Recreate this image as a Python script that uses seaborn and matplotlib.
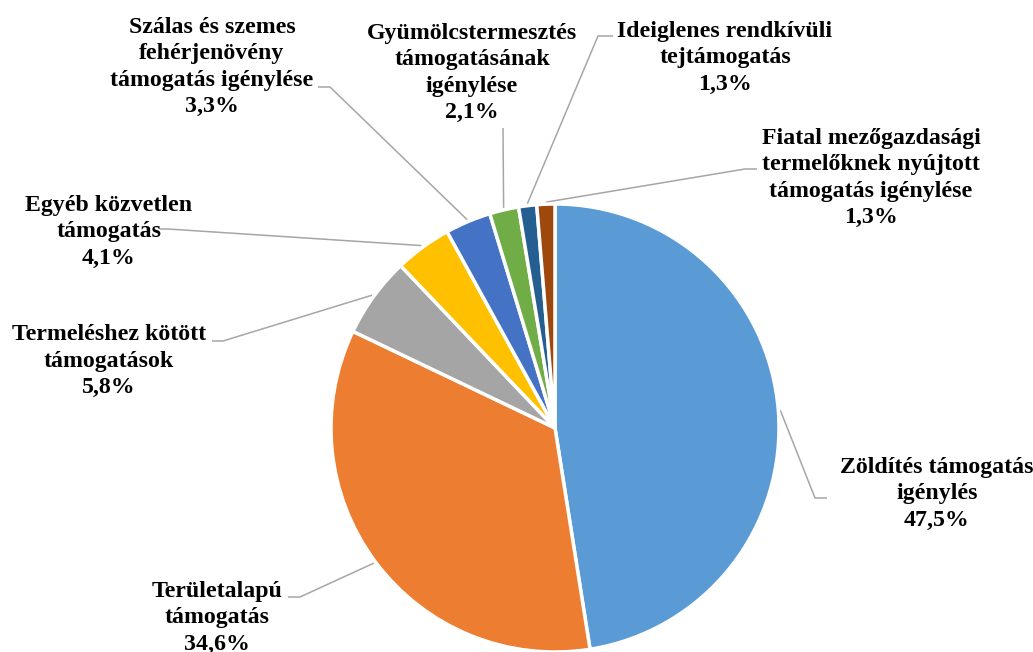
import numpy as np
import matplotlib
matplotlib.use("Agg")
import matplotlib.pyplot as plt
import seaborn as sns

# data
labels = [
    "Zöldítés támogatás\nigénylés",
    "Területalapú\ntámogatás",
    "Termeléshez kötött\ntámogatások",
    "Egyéb közvetlen\ntámogatás",
    "Szálas és szemes\nfehérjenövény\ntámogatás igénylése",
    "Gyümölcstermesztés\ntámogatásának\nigénylése",
    "Ideiglenes rendkívüli\ntejtámogatás",
    "Fiatal mezőgazdasági\ntermelőknek nyújtott\ntámogatás igénylése",
]
values = [47.5, 34.6, 5.8, 4.1, 3.3, 2.1, 1.3, 1.3]
colors = ["#5B9BD5", "#ED7D31", "#A5A5A5", "#FFC000",
          "#4472C4", "#70AD47", "#255E91", "#9E480E"]

# layout (pixel coords, y measured from the top)
W, H = 1033, 652
center = (555, 428)
radius = 224
text_pos = [(937, 494), (217, 618), (109, 361), (109, 232),
            (212, 67), (472, 73), (725, 58), (871, 178)]
anchors = [(827, 498), (288, 597), (212, 341), (160, 229),
           (318, 87), (503, 128), (613, 36), (757, 169)]
elbows = [(815, 498), (300, 597), (223, 341), (168, 229),
          (330, 87), (503, 128), (598, 36), (745, 169)]

sns.set_theme(style="white")
plt.rcParams["font.family"] = ["Liberation Serif", "DejaVu Serif"]

fig = plt.figure(figsize=(W / 100, H / 100), dpi=100)
ax = fig.add_axes([0, 0, 1, 1])

wedges, _ = ax.pie(values, colors=colors, startangle=90, counterclock=False,
                   center=(center[0], H - center[1]), radius=radius,
                   wedgeprops=dict(edgecolor="white", linewidth=2.5))
ax.set_xlim(0, W)
ax.set_ylim(0, H)
ax.set_aspect("equal")
ax.axis("off")

for w, lab, v, (tx, ty), a, e in zip(wedges, labels, values, text_pos, anchors, elbows):
    mid = np.deg2rad((w.theta1 + w.theta2) / 2)
    px = center[0] + (radius + 2) * np.cos(mid)
    py = H - center[1] + (radius + 2) * np.sin(mid)
    ax.plot([a[0], e[0], px], [H - a[1], H - e[1], py], color="#A6A6A6", lw=1.1,
            solid_capstyle="butt", zorder=0)
    txt = lab + "\n" + f"{v:.1f}".replace(".", ",") + "%"
    ax.text(tx, H - ty, txt, ha="center", va="center", fontsize=17.2,
            fontweight="bold", linespacing=1.33, color="black")

fig.savefig("out.png", dpi=100)
